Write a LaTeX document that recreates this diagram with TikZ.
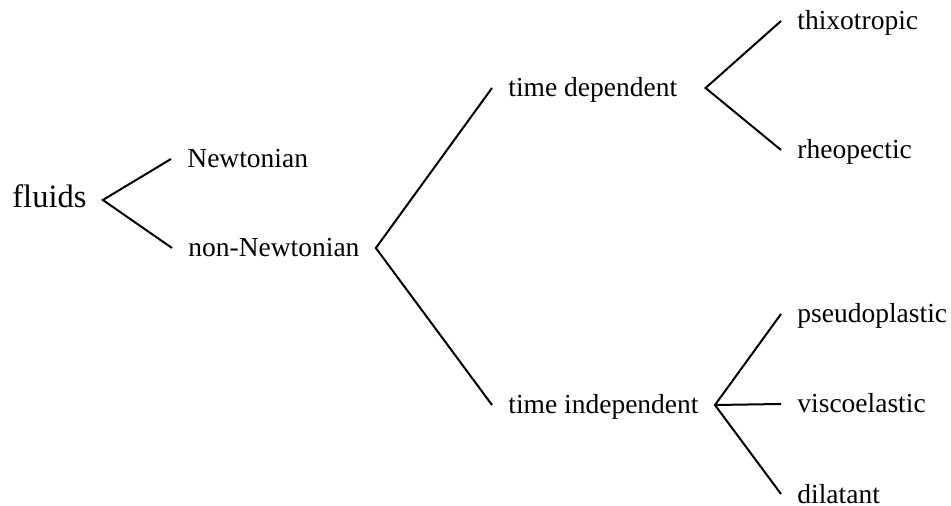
\documentclass[tikz,border=0pt]{standalone}
\usepackage{fontspec}
\setmainfont{Liberation Serif}

\begin{document}
\begin{tikzpicture}[x=0.5pt, y=-0.5pt, every node/.style={font=\fontsize{13.75}{16}\selectfont, anchor=base west, inner xsep=8pt, inner ysep=0pt, text height=9pt, text depth=0pt}, branch/.style={line width=1pt}]
    \useasboundingbox (0,0) rectangle (951,506);

    % classes
    \node[font=\fontsize{16.25}{19}\selectfont, text height=8pt] (fluids) at (-4,208) {fluids};
    \node (newt) at (171,168) {Newtonian};
    \node (nonnewt) at (172,257) {non-Newtonian};
    \node (tdep) at (492,97) {time dependent};
    \node (tindep) at (492,414) {time independent};
    \node (thixo) at (781,30) {thixotropic};
    \node (rheo) at (781,159) {rheopectic};
    \node (pseudo) at (781,323) {pseudoplastic};
    \node (visco) at (781,413) {viscoelastic};
    \node (dila) at (781,503) {dilatant};
    \coordinate (tdepfork) at ([xshift=6pt]tdep.east);

    % branches
    \draw[branch] (newt.west) -- (fluids.east) -- (nonnewt.west);
    \draw[branch] (tdep.west) -- (nonnewt.east) -- (tindep.west);
    \draw[branch] (thixo.west) -- (tdepfork) -- (rheo.west);
    \draw[branch] (pseudo.west) -- (tindep.east) -- (dila.west);
    \draw[branch] (tindep.east) -- (visco.west);
\end{tikzpicture}
\end{document}
